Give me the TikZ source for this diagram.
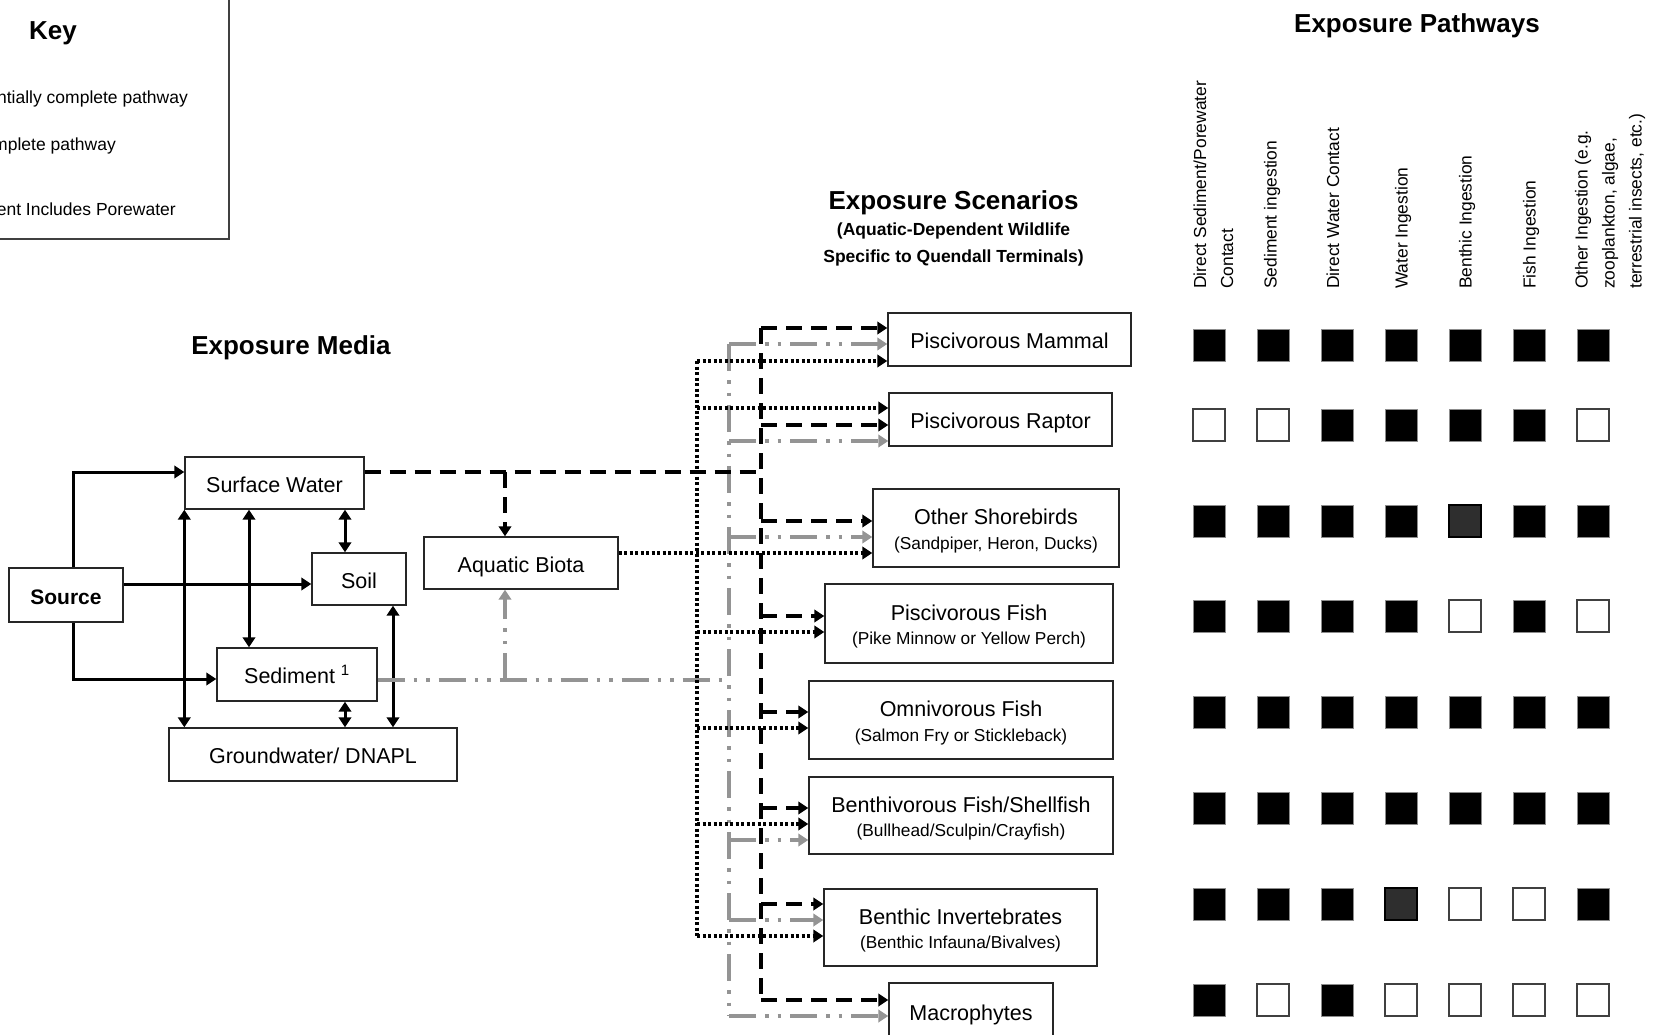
\documentclass[tikz,border=0pt]{standalone}
\usepackage{fontspec}
\setmainfont{Liberation Sans}
\usetikzlibrary{arrows.meta}

\newcommand\fMain{\fontsize{21.5pt}{24.5pt}\selectfont}
\newcommand\fSub{\fontsize{17.3pt}{26pt}\selectfont}
\newcommand\fKey{\fontsize{17.5pt}{21pt}\selectfont}
\newcommand\fHdr{\fontsize{17.4pt}{27pt}\selectfont}
\newcommand\fTitle{\fontsize{26pt}{30pt}\selectfont\bfseries}
\newcommand\fSubTitle{\fontsize{17.5pt}{24pt}\selectfont\bfseries}

\begin{document}
\begin{tikzpicture}[x=1pt,y=-1pt,
  txt/.style={inner sep=0pt},
  box/.style={rectangle, draw=black!85, line width=1.4pt, fill=white, inner sep=0pt},
  box1/.style={box, font=\fMain, text height=20pt, text depth=2pt},
  box2/.style={box, font=\fMain, align=center},
  hdr/.style={txt, font=\fHdr, rotate=90, anchor=west, align=left},
  solidln/.style={line width=3pt, black},
  dashln/.style={line width=3.6pt, black, dash pattern=on 16pt off 9pt},
  dotln/.style={line width=3.4pt, black, dash pattern=on 3pt off 2.5pt},
  grayln/.style={line width=3.2pt, black!42, dash pattern=on 27pt off 9pt on 3.5pt off 9pt on 3.5pt off 9pt},
  endarr/.style={-{Triangle[length=10pt,width=12.5pt]}},
  botharr/.style={{Triangle[length=10pt,width=12.5pt]}-{Triangle[length=10pt,width=12.5pt]}},
  cellbase/.style={rectangle, minimum size=32pt, inner sep=0pt},
  cellB/.style={cellbase, fill=black, draw=black!45, line width=1pt},
  cellW/.style={cellbase, fill=white, draw=black!75, line width=1.6pt},
  cellG/.style={cellbase, fill=black!82, draw=black, line width=1.6pt},
  cellkind/.code={\edef\cellkey{cell#1}\expandafter\pgfkeysalso\expandafter{\cellkey}},
]
\useasboundingbox (0,0) rectangle (1654,1035);
\fill[white] (0,0) rectangle (1654,1035);
\clip (0,0) rectangle (1654,1035);

% ---------- key ----------
\draw[black!75, line width=1.5pt] (-20,-20) rectangle (229,239);
\node[txt, font=\fTitle, anchor=base] (keyttl) at (53,40) {Key};
\node[txt, font=\fKey, anchor=base east] (key1) at (188,104) {ntially complete pathway};
\node[txt, font=\fKey, anchor=base east] (key2) at (116,151) {mplete pathway};
\node[txt, font=\fKey, anchor=base east] (key3) at (176,215) {ent Includes Porewater};

% ---------- titles ----------
\node[txt, font=\fTitle, anchor=base] (ttlPath) at (1417,33) {Exposure Pathways};
\node[txt, font=\fTitle, anchor=base] (ttlScen) at (953.5,210) {Exposure Scenarios};
\node[txt, font=\fSubTitle, anchor=base] (ttlScenA) at (953.5,236) {(Aquatic-Dependent Wildlife};
\node[txt, font=\fSubTitle, anchor=base] (ttlScenB) at (953.5,262) {Specific to Quendall Terminals)};
\node[txt, font=\fTitle, anchor=base] (ttlMedia) at (291,354) {Exposure Media};

% ---------- exposure media ----------
\node[box, font=\fontsize{21pt}{24pt}\selectfont\bfseries, text height=20pt, text depth=2pt,
      minimum width=114pt, minimum height=54pt] (src) at (66,595) {Source};
\node[box1, minimum width=179pt, minimum height=52pt] (sw) at (274.5,483) {Surface Water};
\node[box1, minimum width=94pt, minimum height=52pt] (soil) at (359,579) {Soil};
\node[box1, minimum width=160pt, minimum height=53pt] (sed) at (297,674.5) {Sediment \textsuperscript{1}};
\node[box1, minimum width=288pt, minimum height=53pt] (gw) at (313,754.5) {Groundwater/ DNAPL};
\node[box1, minimum width=194pt, minimum height=52pt] (ab) at (521,563) {Aquatic Biota};

% ---------- exposure scenarios ----------
\node[box1, minimum width=243pt, minimum height=53pt] (mam) at (1009.5,339.5) {Piscivorous Mammal};
\node[box1, minimum width=223pt, minimum height=53pt] (rap) at (1000.5,419.5) {Piscivorous Raptor};
\node[box2, minimum width=246pt, minimum height=78pt] (sho) at (996,528)
  {\rule{0pt}{22pt}Other Shorebirds\\\fSub (Sandpiper, Heron, Ducks)};
\node[box2, minimum width=288pt, minimum height=79pt] (pf) at (969,623.5)
  {\rule{0pt}{22pt}Piscivorous Fish\\\fSub (Pike Minnow or Yellow Perch)};
\node[box2, minimum width=304pt, minimum height=78pt] (of) at (961,720)
  {\rule{0pt}{22pt}Omnivorous Fish\\\fSub (Salmon Fry or Stickleback)};
\node[box2, minimum width=304pt, minimum height=77pt] (bf) at (961,815.5)
  {\rule{0pt}{22pt}Benthivorous Fish/Shellfish\\\fSub (Bullhead/Sculpin/Crayfish)};
\node[box2, minimum width=273pt, minimum height=77pt] (bi) at (960.5,927.5)
  {\rule{0pt}{22pt}Benthic Invertebrates\\\fSub (Benthic Infauna/Bivalves)};
\node[box1, minimum width=164pt, minimum height=56pt] (mac) at (971,1011) {Macrophytes};

% ---------- solid transfers between media ----------
\coordinate (jSW) at (73,472);
\coordinate (jSed) at (73,679);
\coordinate (jSoil) at (200,584);
\coordinate (xB) at (249,0);
\coordinate (xC) at (345,0);
\coordinate (xD) at (393,0);
\draw[solidln, endarr] (src.north -| jSW) -- (jSW) -- (sw.west |- jSW);
\draw[solidln, endarr] (src.east |- jSoil) -- (soil.west |- jSoil);
\draw[solidln, endarr] (src.south -| jSed) -- (jSed) -- (sed.west |- jSed);
\draw[solidln, botharr] (sw.south west) -- (gw.north -| sw.south west);
\draw[solidln, botharr] (sw.south -| xB) -- (sed.north -| xB);
\draw[solidln, botharr] (sw.south -| xC) -- (soil.north -| xC);
\draw[solidln, botharr] (sed.south -| xC) -- (gw.north -| xC);
\draw[solidln, botharr] (soil.south -| xD) -- (gw.north -| xD);

% ---------- trunk positions ----------
\coordinate (tD) at (761,0);
\coordinate (tG) at (729,0);
\coordinate (tP) at (697,0);

% ---------- grey dash-dot-dot: sediment pathways ----------
\coordinate (jG) at (505,680);
\draw[grayln] (sed.east |- jG) -- (tG |- jG);
\draw[grayln, endarr] (jG) -- (ab.south -| jG);
\coordinate (gTop) at (729,344);
\coordinate (gBot) at (729,1016);
\draw[grayln] (gTop) -- (gBot);
\foreach \yy/\tgt in {344/mam, 441/rap, 537/sho, 840/bf, 920/bi, 1016/mac}{
  \coordinate (gb) at (729,\yy);
  \draw[grayln, endarr] (gb) -- (\tgt.west |- gb);
}

% ---------- dotted: aquatic biota pathways ----------
\coordinate (jP) at (640,553);
\draw[dotln, endarr] (ab.east |- jP) -- (sho.west |- jP);
\coordinate (pTop) at (697,361);
\coordinate (pBot) at (697,936);
\draw[dotln] (pTop) -- (pBot);
\foreach \yy/\tgt in {361/mam, 408/rap, 632/pf, 728/of, 824/bf, 936/bi}{
  \coordinate (pb) at (697,\yy);
  \draw[dotln, endarr] (pb) -- (\tgt.west |- pb);
}

% ---------- dashed: surface water pathways ----------
\draw[dashln] (sw.east |- jSW) -- (tD |- jSW);
\coordinate (jAB) at (505,472);
\draw[dashln, endarr] (jAB) -- (ab.north -| jAB);
\coordinate (dTop) at (761,328);
\coordinate (dBot) at (761,1000);
\draw[dashln] (dTop) -- (dBot);
\foreach \yy/\tgt in {328/mam, 425/rap, 521/sho, 616/pf, 712/of, 808/bf, 904/bi, 1000/mac}{
  \coordinate (db) at (761,\yy);
  \draw[dashln, endarr] (db) -- (\tgt.west |- db);
}

% ---------- exposure pathway headers ----------
\node[hdr] (h1) at (1213.5,289) {Direct Sediment/Porewater\\Contact};
\node[hdr] (h2) at (1272,289) {Sediment ingestion};
\node[hdr] (h3) at (1333,289) {Direct Water Contact};
\node[hdr] (h4) at (1403,289) {Water Ingestion};
\node[hdr] (h5) at (1467,289) {Benthic Ingestion};
\node[hdr] (h6) at (1531,289) {Fish Ingestion};
\node[hdr] (h7) at (1610,289) {Other Ingestion (e.g.\\zooplankton, algae,\\terrestrial insects, etc.)};

% ---------- pathway matrix (B complete, W incomplete, G partial) ----------
\foreach \yy/\codes [count=\r] in {
   345/{B,B,B,B,B,B,B},
   425/{W,W,B,B,B,B,W},
   521/{B,B,B,B,G,B,B},
   616/{B,B,B,B,W,B,W},
   712/{B,B,B,B,B,B,B},
   808/{B,B,B,B,B,B,B},
   904/{B,B,B,G,W,W,B},
  1000/{B,W,B,W,W,W,W}}{
  \foreach \k [count=\c] in \codes {
    \node[cellkind=\k] (cell-\r-\c) at ({1209+64*(\c-1)},\yy) {};
  }
}
\end{tikzpicture}
\end{document}
